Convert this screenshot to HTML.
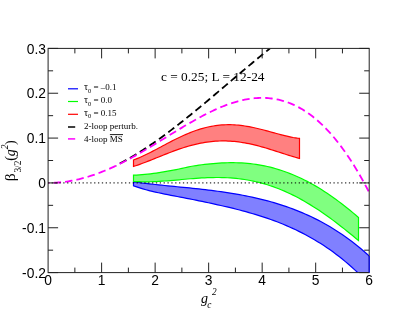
<!DOCTYPE html>
<html><head><meta charset="utf-8"><style>
html,body{margin:0;padding:0;background:#fff;}
svg{display:block;will-change:transform;opacity:0.999;}
.tk{font-family:"Liberation Sans",sans-serif;font-size:13.8px;fill:#000;}
.sr{font-family:"Liberation Serif",serif;fill:#000;}
</style></head><body>
<svg width="415" height="321" viewBox="0 0 415 321">
<rect width="415" height="321" fill="#fff"/>
<defs><clipPath id="cb"><rect x="116" y="48.4" width="253.2" height="224.20000000000002"/></clipPath><clipPath id="cp"><rect x="48.1" y="48.4" width="321.09999999999997" height="224.20000000000002"/></clipPath></defs>
<text class="sr" x="161" y="80.5" font-size="13" textLength="103.5" lengthAdjust="spacingAndGlyphs">c = 0.25; L = 12-24</text>
<g clip-path="url(#cp)">
<path d="M133.50 181.84 L136.62 182.25 L139.74 182.66 L142.86 183.05 L145.98 183.43 L149.10 183.80 L152.22 184.16 L155.34 184.51 L158.46 184.84 L161.58 185.18 L164.70 185.51 L167.82 185.83 L170.94 186.15 L174.06 186.46 L177.18 186.75 L180.30 187.04 L183.42 187.34 L186.54 187.65 L189.66 187.96 L192.78 188.28 L195.91 188.61 L199.03 188.95 L202.15 189.30 L205.27 189.66 L208.39 190.03 L211.51 190.42 L214.63 190.82 L217.75 191.24 L220.87 191.67 L223.99 192.12 L227.11 192.59 L230.23 193.07 L233.35 193.58 L236.47 194.12 L239.59 194.67 L242.71 195.25 L245.83 195.85 L248.95 196.49 L252.07 197.15 L255.19 197.84 L258.31 198.56 L261.43 199.31 L264.55 200.09 L267.67 200.91 L270.79 201.77 L273.91 202.66 L277.03 203.59 L280.15 204.56 L283.27 205.58 L286.39 206.64 L289.51 207.74 L292.63 208.88 L295.75 210.08 L298.87 211.32 L301.99 212.62 L305.11 213.97 L308.23 215.37 L311.35 216.82 L314.47 218.34 L317.59 219.91 L320.72 221.54 L323.84 223.24 L326.96 225.00 L330.08 226.82 L333.20 228.71 L336.32 230.67 L339.44 232.70 L342.56 234.81 L345.68 236.98 L348.80 239.24 L351.92 241.57 L355.04 243.98 L358.16 246.48 L361.28 249.06 L364.40 251.72 L367.52 254.47 L370.64 257.31 L373.76 260.25 L376.88 263.27 L380.00 266.40 L380.00 296.27 L376.88 292.63 L373.76 289.09 L370.64 285.67 L367.52 282.35 L364.40 279.13 L361.28 276.01 L358.16 272.99 L355.04 270.07 L351.92 267.24 L348.80 264.50 L345.68 261.85 L342.56 259.29 L339.44 256.81 L336.32 254.41 L333.20 252.10 L330.08 249.86 L326.96 247.70 L323.84 245.61 L320.72 243.60 L317.59 241.65 L314.47 239.78 L311.35 237.97 L308.23 236.22 L305.11 234.53 L301.99 232.90 L298.87 231.34 L295.75 229.82 L292.63 228.36 L289.51 226.96 L286.39 225.60 L283.27 224.29 L280.15 223.03 L277.03 221.81 L273.91 220.64 L270.79 219.50 L267.67 218.41 L264.55 217.35 L261.43 216.33 L258.31 215.34 L255.19 214.38 L252.07 213.46 L248.95 212.56 L245.83 211.69 L242.71 210.85 L239.59 210.02 L236.47 209.23 L233.35 208.45 L230.23 207.69 L227.11 206.95 L223.99 206.22 L220.87 205.51 L217.75 204.81 L214.63 204.13 L211.51 203.45 L208.39 202.78 L205.27 202.12 L202.15 201.46 L199.03 200.81 L195.91 200.16 L192.78 199.52 L189.66 198.91 L186.54 198.31 L183.42 197.71 L180.30 197.12 L177.18 196.52 L174.06 195.90 L170.94 195.29 L167.82 194.67 L164.70 194.04 L161.58 193.40 L158.46 192.74 L155.34 192.06 L152.22 191.34 L149.10 190.58 L145.98 189.75 L142.86 188.86 L139.74 187.90 L136.62 186.89 L133.50 185.84 Z" fill="#8080ff" stroke="#0000ff" stroke-width="1.2" stroke-linejoin="miter"/>
<path d="M133.50 175.13 L136.35 175.03 L139.20 174.88 L142.04 174.68 L144.89 174.43 L147.74 174.14 L150.59 173.80 L153.44 173.44 L156.28 173.04 L159.13 172.62 L161.98 172.16 L164.83 171.68 L167.68 171.18 L170.53 170.66 L173.37 170.13 L176.22 169.59 L179.07 169.00 L181.92 168.36 L184.77 167.72 L187.61 167.09 L190.46 166.50 L193.31 165.98 L196.16 165.54 L199.01 165.15 L201.85 164.77 L204.70 164.42 L207.55 164.10 L210.40 163.80 L213.25 163.54 L216.09 163.30 L218.94 163.10 L221.79 162.94 L224.64 162.82 L227.49 162.73 L230.34 162.69 L233.18 162.69 L236.03 162.73 L238.88 162.82 L241.73 162.96 L244.58 163.14 L247.42 163.38 L250.27 163.67 L253.12 164.01 L255.97 164.40 L258.82 164.85 L261.66 165.35 L264.51 165.91 L267.36 166.52 L270.21 167.20 L273.06 167.93 L275.91 168.72 L278.75 169.57 L281.60 170.48 L284.45 171.45 L287.30 172.48 L290.15 173.57 L292.99 174.72 L295.84 175.94 L298.69 177.21 L301.54 178.55 L304.39 179.94 L307.23 181.40 L310.08 182.92 L312.93 184.50 L315.78 186.14 L318.63 187.84 L321.47 189.60 L324.32 191.42 L327.17 193.29 L330.02 195.23 L332.87 197.22 L335.72 199.26 L338.56 201.36 L341.41 203.52 L344.26 205.72 L347.11 207.98 L349.96 210.29 L352.80 212.65 L355.65 215.06 L358.50 217.51 L358.50 240.55 L355.65 238.17 L352.80 235.82 L349.96 233.48 L347.11 231.18 L344.26 228.90 L341.41 226.66 L338.56 224.45 L335.72 222.28 L332.87 220.14 L330.02 218.04 L327.17 215.99 L324.32 213.98 L321.47 212.01 L318.63 210.09 L315.78 208.22 L312.93 206.40 L310.08 204.63 L307.23 202.91 L304.39 201.25 L301.54 199.64 L298.69 198.08 L295.84 196.59 L292.99 195.14 L290.15 193.76 L287.30 192.43 L284.45 191.17 L281.60 189.96 L278.75 188.80 L275.91 187.71 L273.06 186.68 L270.21 185.71 L267.36 184.79 L264.51 183.93 L261.66 183.13 L258.82 182.39 L255.97 181.71 L253.12 181.08 L250.27 180.50 L247.42 179.98 L244.58 179.52 L241.73 179.10 L238.88 178.74 L236.03 178.43 L233.18 178.16 L230.34 177.95 L227.49 177.77 L224.64 177.65 L221.79 177.56 L218.94 177.51 L216.09 177.51 L213.25 177.53 L210.40 177.59 L207.55 177.69 L204.70 177.81 L201.85 177.96 L199.01 178.13 L196.16 178.33 L193.31 178.54 L190.46 178.77 L187.61 179.01 L184.77 179.26 L181.92 179.52 L179.07 179.78 L176.22 180.04 L173.37 180.29 L170.53 180.54 L167.68 180.78 L164.83 181.00 L161.98 181.21 L159.13 181.39 L156.28 181.55 L153.44 181.67 L150.59 181.76 L147.74 181.81 L144.89 181.82 L142.04 181.77 L139.20 181.68 L136.35 181.53 L133.50 181.31 Z" fill="#80ff80" stroke="#00ff00" stroke-width="1.2" stroke-linejoin="miter"/>
<path d="M133.50 159.94 L135.60 159.16 L137.70 158.32 L139.80 157.44 L141.91 156.51 L144.01 155.54 L146.11 154.54 L148.21 153.51 L150.31 152.45 L152.41 151.37 L154.51 150.28 L156.61 149.17 L158.72 148.05 L160.82 146.93 L162.92 145.81 L165.02 144.69 L167.12 143.58 L169.22 142.48 L171.32 141.39 L173.42 140.31 L175.53 139.26 L177.63 138.22 L179.73 137.21 L181.83 136.23 L183.93 135.28 L186.03 134.36 L188.13 133.47 L190.23 132.61 L192.34 131.80 L194.44 131.02 L196.54 130.28 L198.64 129.59 L200.74 128.94 L202.84 128.33 L204.94 127.77 L207.04 127.25 L209.15 126.78 L211.25 126.36 L213.35 125.98 L215.45 125.66 L217.55 125.38 L219.65 125.15 L221.75 124.97 L223.85 124.83 L225.96 124.75 L228.06 124.71 L230.16 124.72 L232.26 124.77 L234.36 124.87 L236.46 125.01 L238.56 125.19 L240.66 125.41 L242.77 125.67 L244.87 125.97 L246.97 126.31 L249.07 126.68 L251.17 127.08 L253.27 127.52 L255.37 127.98 L257.47 128.46 L259.58 128.97 L261.68 129.49 L263.78 130.04 L265.88 130.60 L267.98 131.16 L270.08 131.74 L272.18 132.32 L274.28 132.90 L276.39 133.47 L278.49 134.04 L280.59 134.60 L282.69 135.14 L284.79 135.66 L286.89 136.16 L288.99 136.63 L291.09 137.07 L293.20 137.47 L295.30 137.82 L297.40 138.13 L299.50 138.38 L299.50 158.47 L297.40 157.89 L295.30 157.29 L293.20 156.67 L291.09 156.03 L288.99 155.38 L286.89 154.71 L284.79 154.04 L282.69 153.36 L280.59 152.67 L278.49 151.99 L276.39 151.31 L274.28 150.63 L272.18 149.96 L270.08 149.31 L267.98 148.66 L265.88 148.03 L263.78 147.41 L261.68 146.81 L259.58 146.24 L257.47 145.68 L255.37 145.15 L253.27 144.64 L251.17 144.17 L249.07 143.71 L246.97 143.29 L244.87 142.90 L242.77 142.55 L240.66 142.22 L238.56 141.93 L236.46 141.68 L234.36 141.46 L232.26 141.28 L230.16 141.14 L228.06 141.03 L225.96 140.96 L223.85 140.93 L221.75 140.94 L219.65 140.99 L217.55 141.08 L215.45 141.21 L213.35 141.38 L211.25 141.58 L209.15 141.83 L207.04 142.11 L204.94 142.43 L202.84 142.79 L200.74 143.18 L198.64 143.61 L196.54 144.08 L194.44 144.58 L192.34 145.11 L190.23 145.67 L188.13 146.27 L186.03 146.89 L183.93 147.55 L181.83 148.23 L179.73 148.93 L177.63 149.66 L175.53 150.41 L173.42 151.18 L171.32 151.97 L169.22 152.77 L167.12 153.59 L165.02 154.41 L162.92 155.25 L160.82 156.10 L158.72 156.94 L156.61 157.80 L154.51 158.64 L152.41 159.49 L150.31 160.33 L148.21 161.16 L146.11 161.98 L144.01 162.78 L141.91 163.56 L139.80 164.32 L137.70 165.06 L135.60 165.77 L133.50 166.44 Z" fill="#ff8080" stroke="#ff0000" stroke-width="1.2" stroke-linejoin="miter"/>
<path clip-path="url(#cb)" d="M48.10 182.92 L49.79 182.91 L51.49 182.87 L53.18 182.82 L54.88 182.74 L56.57 182.64 L58.27 182.51 L59.96 182.36 L61.65 182.19 L63.35 182.00 L65.04 181.79 L66.74 181.55 L68.43 181.29 L70.13 181.01 L71.82 180.71 L73.51 180.38 L75.21 180.04 L76.90 179.67 L78.60 179.28 L80.29 178.86 L81.98 178.43 L83.68 177.98 L85.37 177.50 L87.07 177.00 L88.76 176.48 L90.46 175.95 L92.15 175.39 L93.84 174.81 L95.54 174.21 L97.23 173.59 L98.93 172.95 L100.62 172.29 L102.32 171.61 L104.01 170.91 L105.70 170.19 L107.40 169.46 L109.09 168.70 L110.79 167.93 L112.48 167.13 L114.18 166.32 L115.87 165.49 L117.56 164.65 L119.26 163.78 L120.95 162.90 L122.65 162.00 L124.34 161.09 L126.04 160.16 L127.73 159.21 L129.42 158.24 L131.12 157.26 L132.81 156.27 L134.51 155.26 L136.20 154.23 L137.90 153.19 L139.59 152.13 L141.28 151.06 L142.98 149.97 L144.67 148.88 L146.37 147.76 L148.06 146.64 L149.75 145.50 L151.45 144.35 L153.14 143.18 L154.84 142.00 L156.53 140.81 L158.23 139.61 L159.92 138.40 L161.61 137.18 L163.31 135.94 L165.00 134.70 L166.70 133.44 L168.39 132.18 L170.09 130.90 L171.78 129.62 L173.47 128.32 L175.17 127.02 L176.86 125.71 L178.56 124.39 L180.25 123.06 L181.95 121.72 L183.64 120.38 L185.33 119.03 L187.03 117.67 L188.72 116.31 L190.42 114.94 L192.11 113.56 L193.81 112.18 L195.50 110.79 L197.19 109.40 L198.89 108.00 L200.58 106.59 L202.28 105.19 L203.97 103.77 L205.66 102.36 L207.36 100.94 L209.05 99.52 L210.75 98.09 L212.44 96.67 L214.14 95.24 L215.83 93.80 L217.52 92.37 L219.22 90.93 L220.91 89.50 L222.61 88.06 L224.30 86.62 L226.00 85.18 L227.69 83.74 L229.38 82.30 L231.08 80.86 L232.77 79.42 L234.47 77.98 L236.16 76.54 L237.86 75.11 L239.55 73.67 L241.24 72.24 L242.94 70.81 L244.63 69.38 L246.33 67.95 L248.02 66.53 L249.72 65.11 L251.41 63.69 L253.10 62.28 L254.80 60.87 L256.49 59.46 L258.19 58.06 L259.88 56.66 L261.58 55.26 L263.27 53.88 L264.96 52.49 L266.66 51.11 L268.35 49.74 L270.05 48.37 L271.74 47.00 L273.43 45.65 L275.13 44.29 L276.82 42.95 L278.52 41.61 L280.21 40.28 L281.91 38.95 L283.60 37.63 L285.29 36.32 L286.99 35.01 L288.68 33.71 L290.38 32.42 L292.07 31.13 L293.77 29.86 L295.46 28.59 L297.15 27.33 L298.85 26.07 L300.54 24.83 L302.24 23.59 L303.93 22.36 L305.63 21.13 L307.32 19.92 L309.01 18.72 L310.71 17.52 L312.40 16.33 L314.10 15.15 L315.79 13.98 L317.49 12.81 L319.18 11.66 L320.87 10.51 L322.57 9.37 L324.26 8.24 L325.96 7.12 L327.65 6.01 L329.34 4.91 L331.04 3.81 L332.73 2.73 L334.43 1.65 L336.12 0.58 L337.82 -0.48 L339.51 -1.54 L341.20 -2.58 L342.90 -3.62 L344.59 -4.65 L346.29 -5.67 L347.98 -6.68 L349.68 -7.69 L351.37 -8.69 L353.06 -9.68 L354.76 -10.66 L356.45 -11.64 L358.15 -12.60 L359.84 -13.57 L361.54 -14.52 L363.23 -15.47 L364.92 -16.41 L366.62 -17.35 L368.31 -18.28 L370.01 -19.20 L371.70 -20.12 L373.40 -21.03 L375.09 -21.94 L376.78 -22.85 L378.48 -23.75 L380.17 -24.64 L381.87 -25.53 L383.56 -26.42 L385.25 -27.30" fill="none" stroke="#000" stroke-width="1.8" stroke-dasharray="7.5 4.05" stroke-dashoffset="5.85"/>
<path d="M48.10 182.92 L49.79 182.91 L51.49 182.87 L53.18 182.82 L54.88 182.74 L56.57 182.64 L58.27 182.51 L59.96 182.36 L61.65 182.19 L63.35 182.00 L65.04 181.79 L66.74 181.55 L68.43 181.29 L70.13 181.01 L71.82 180.71 L73.51 180.39 L75.21 180.04 L76.90 179.67 L78.60 179.28 L80.29 178.87 L81.98 178.44 L83.68 177.99 L85.37 177.52 L87.07 177.03 L88.76 176.51 L90.46 175.98 L92.15 175.43 L93.84 174.85 L95.54 174.26 L97.23 173.65 L98.93 173.02 L100.62 172.38 L102.32 171.71 L104.01 171.03 L105.70 170.33 L107.40 169.61 L109.09 168.87 L110.79 168.12 L112.48 167.36 L114.18 166.57 L115.87 165.78 L117.56 164.96 L119.26 164.13 L120.95 163.29 L122.65 162.44 L124.34 161.57 L126.04 160.69 L127.73 159.79 L129.42 158.88 L131.12 157.97 L132.81 157.04 L134.51 156.10 L136.20 155.15 L137.90 154.19 L139.59 153.22 L141.28 152.24 L142.98 151.26 L144.67 150.26 L146.37 149.26 L148.06 148.26 L149.75 147.24 L151.45 146.22 L153.14 145.20 L154.84 144.17 L156.53 143.14 L158.23 142.11 L159.92 141.07 L161.61 140.03 L163.31 138.99 L165.00 137.95 L166.70 136.90 L168.39 135.86 L170.09 134.82 L171.78 133.78 L173.47 132.75 L175.17 131.71 L176.86 130.68 L178.56 129.65 L180.25 128.63 L181.95 127.61 L183.64 126.60 L185.33 125.60 L187.03 124.60 L188.72 123.61 L190.42 122.63 L192.11 121.66 L193.81 120.70 L195.50 119.75 L197.19 118.81 L198.89 117.88 L200.58 116.97 L202.28 116.06 L203.97 115.17 L205.66 114.30 L207.36 113.44 L209.05 112.60 L210.75 111.77 L212.44 110.96 L214.14 110.17 L215.83 109.40 L217.52 108.64 L219.22 107.91 L220.91 107.20 L222.61 106.50 L224.30 105.83 L226.00 105.18 L227.69 104.56 L229.38 103.96 L231.08 103.38 L232.77 102.83 L234.47 102.30 L236.16 101.80 L237.86 101.33 L239.55 100.88 L241.24 100.47 L242.94 100.08 L244.63 99.72 L246.33 99.39 L248.02 99.09 L249.72 98.83 L251.41 98.59 L253.10 98.39 L254.80 98.22 L256.49 98.09 L258.19 97.99 L259.88 97.92 L261.58 97.89 L263.27 97.90 L264.96 97.94 L266.66 98.02 L268.35 98.14 L270.05 98.30 L271.74 98.50 L273.43 98.73 L275.13 99.01 L276.82 99.33 L278.52 99.69 L280.21 100.09 L281.91 100.53 L283.60 101.01 L285.29 101.54 L286.99 102.12 L288.68 102.74 L290.38 103.40 L292.07 104.11 L293.77 104.86 L295.46 105.66 L297.15 106.51 L298.85 107.41 L300.54 108.35 L302.24 109.34 L303.93 110.38 L305.63 111.47 L307.32 112.61 L309.01 113.81 L310.71 115.05 L312.40 116.34 L314.10 117.69 L315.79 119.08 L317.49 120.53 L319.18 122.04 L320.87 123.59 L322.57 125.20 L324.26 126.87 L325.96 128.59 L327.65 130.37 L329.34 132.20 L331.04 134.09 L332.73 136.03 L334.43 138.03 L336.12 140.09 L337.82 142.21 L339.51 144.39 L341.20 146.62 L342.90 148.92 L344.59 151.27 L346.29 153.69 L347.98 156.16 L349.68 158.70 L351.37 161.29 L353.06 163.95 L354.76 166.68 L356.45 169.46 L358.15 172.31 L359.84 175.22 L361.54 178.20 L363.23 181.24 L364.92 184.35 L366.62 187.52 L368.31 190.76 L370.01 194.07 L371.70 197.44 L373.40 200.88 L375.09 204.39 L376.78 207.97 L378.48 211.61 L380.17 215.33 L381.87 219.12 L383.56 222.98 L385.25 226.91" fill="none" stroke="#ff00ff" stroke-width="1.8" stroke-dasharray="7.5 4.05" stroke-dashoffset="6.1"/>
<path d="M48.1 182.92 H369.2" fill="none" stroke="#000" stroke-width="1" stroke-dasharray="1.3 2.56" stroke-dashoffset="0.3"/>
</g>
<path d="M74.86 272.60 v-5 M74.86 48.40 v5 M101.62 272.60 v-10 M101.62 48.40 v10 M128.38 272.60 v-5 M128.38 48.40 v5 M155.13 272.60 v-10 M155.13 48.40 v10 M181.89 272.60 v-5 M181.89 48.40 v5 M208.65 272.60 v-10 M208.65 48.40 v10 M235.41 272.60 v-5 M235.41 48.40 v5 M262.17 272.60 v-10 M262.17 48.40 v10 M288.92 272.60 v-5 M288.92 48.40 v5 M315.68 272.60 v-10 M315.68 48.40 v10 M342.44 272.60 v-5 M342.44 48.40 v5 M48.10 272.60 h10 M369.20 272.60 h-10 M48.10 250.18 h5 M369.20 250.18 h-5 M48.10 227.76 h10 M369.20 227.76 h-10 M48.10 205.34 h5 M369.20 205.34 h-5 M48.10 182.92 h10 M369.20 182.92 h-10 M48.10 160.50 h5 M369.20 160.50 h-5 M48.10 138.08 h10 M369.20 138.08 h-10 M48.10 115.66 h5 M369.20 115.66 h-5 M48.10 93.24 h10 M369.20 93.24 h-10 M48.10 70.82 h5 M369.20 70.82 h-5 M48.10 48.40 h10 M369.20 48.40 h-10" fill="none" stroke="#222" stroke-width="1"/>
<rect x="48.1" y="48.4" width="321.09999999999997" height="224.20000000000002" fill="none" stroke="#222" stroke-width="1"/>
<path d="M369.2 255.99 V272.6" stroke="#0000ff" stroke-width="1.1" fill="none"/>
<text x="45.9" y="53.50" text-anchor="end" class="tk">0.3</text><text x="45.9" y="98.34" text-anchor="end" class="tk">0.2</text><text x="45.9" y="143.18" text-anchor="end" class="tk">0.1</text><text x="45.9" y="188.02" text-anchor="end" class="tk">0</text><text x="45.9" y="232.86" text-anchor="end" class="tk">-0.1</text><text x="45.9" y="277.70" text-anchor="end" class="tk">-0.2</text>
<text x="48.10" y="285.2" text-anchor="middle" class="tk">0</text><text x="101.62" y="285.2" text-anchor="middle" class="tk">1</text><text x="155.13" y="285.2" text-anchor="middle" class="tk">2</text><text x="208.65" y="285.2" text-anchor="middle" class="tk">3</text><text x="262.17" y="285.2" text-anchor="middle" class="tk">4</text><text x="315.68" y="285.2" text-anchor="middle" class="tk">5</text><text x="369.20" y="285.2" text-anchor="middle" class="tk">6</text>
<!-- legend -->
<g stroke-width="1.2" fill="none">
<path d="M68 88.8 H78" stroke="#0000ff"/>
<path d="M68 101.5 H78" stroke="#00ff00"/>
<path d="M68 114.3 H78" stroke="#ff0000"/>
<path d="M68 127.0 H75.2" stroke="#000" stroke-width="1.5"/>
<path d="M68 138.9 H75.2" stroke="#ff00ff" stroke-width="1.5"/>
</g>
<g class="sr" font-size="9">
<text x="84" y="90.2"><tspan font-size="10">τ</tspan><tspan font-size="6.5" dy="2.6">0</tspan><tspan dy="-2.6"> = –0.1</tspan></text>
<text x="84" y="103.0"><tspan font-size="10">τ</tspan><tspan font-size="6.5" dy="2.6">0</tspan><tspan dy="-2.6"> = 0.0</tspan></text>
<text x="84" y="115.8"><tspan font-size="10">τ</tspan><tspan font-size="6.5" dy="2.6">0</tspan><tspan dy="-2.6"> = 0.15</tspan></text>
<text x="84" y="128.8">2-loop perturb.</text>
<text x="84" y="141.6">4-loop MS</text>
</g>
<path d="M109.9 134.6 H123" stroke="#000" stroke-width="0.9"/>
<!-- axis labels -->
<g class="sr" transform="translate(15.3 181.2) rotate(-90)">
<text x="0" y="-0.2" font-size="15.5">β</text>
<text x="8.6" y="5.5" font-size="9.3">3/2</text>
<text x="20.5" y="0" font-size="14">(</text>
<text x="24.9" y="0" font-size="14" font-style="italic">g</text>
<text x="32.0" y="-7.5" font-size="9.3" font-style="italic">2</text>
<text x="36.2" y="0" font-size="14">)</text>
</g>
<text class="sr" x="201" y="303" font-size="14" font-style="italic">g</text>
<text class="sr" x="207.2" y="307.7" font-size="9.3" font-style="italic">c</text>
<text class="sr" x="212" y="295.1" font-size="9.3" font-style="italic">2</text>
</svg>
</body></html>
